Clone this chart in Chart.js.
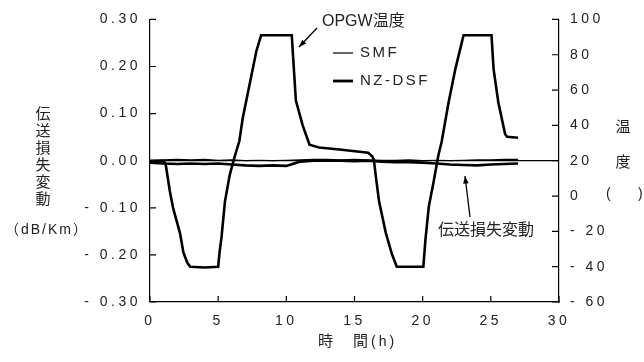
<!DOCTYPE html>
<html>
<head>
<meta charset="utf-8">
<script src="https://cdn.jsdelivr.net/npm/chart.js@4"></script>
<style>
  body { margin: 0; background: #fff; }
</style>
</head>
<body>
<canvas id="myChart" width="644" height="362"></canvas>
<script>
// OPGW temperature (right axis, degC) vs time (h)
let timeH = [0, 1.0, 1.15, 1.45, 1.7, 2.2, 2.45, 2.75, 2.95, 4.0, 5.0, 5.1, 5.25, 5.5, 5.85, 6.2, 6.55, 6.8, 7.3, 7.8, 8.15,
  10.4, 10.47, 10.7, 11.2, 11.7, 12.4, 13.9, 16.0, 16.3, 16.42, 16.55, 16.8, 17.3, 17.75, 18.1,
  20.05, 20.2, 20.45, 20.8, 21.15, 21.4, 21.9, 22.4, 23.0, 25.05, 25.2, 25.55, 26.05, 26.2, 27.0];
let opgwTemp = [20, 20, 18, 3, -7, -21, -32, -38, -40, -40.5, -40, -32, -23, -3, 12, 22, 31, 44, 63, 82, 91,
  91, 82, 54, 40, 29, 27.5, 26.3, 24.5, 22.5, 20.5, 12, -3, -21, -33, -40,
  -40, -25, -6, 8, 23, 31, 53, 72, 91, 91, 72, 53, 35, 33.5, 33];

// transmission loss change (left axis, dB/km)
let lossTime = [0, 1, 2, 3, 4, 5, 6, 7, 8, 9, 10, 11, 12, 13, 14, 15, 16, 17, 18, 19, 20, 21, 22, 23, 24, 25, 26, 27];
let smfLoss = [0.000, 0.002, 0.003, 0.002, 0.003, 0.001, 0.002, 0.000, 0.001, 0.000, 0.001, 0.002, 0.003, 0.003,
  0.002, 0.003, 0.002, 0.001, 0.001, 0.002, 0.000, 0.001, 0.000, 0.001, 0.002, 0.002, 0.003, 0.003];
let nzdsfLoss = [-0.004, -0.006, -0.007, -0.006, -0.007, -0.006, -0.008, -0.010, -0.011, -0.010, -0.011, -0.002,
  0.000, 0.000, 0.000, -0.001, 0.000, -0.002, -0.003, -0.003, -0.004, -0.006, -0.008, -0.009, -0.010, -0.008, -0.007, -0.006];

let xRange = [0, 30, 5];
let lossRange = [-0.3, 0.3, 0.1];
let tempRange = [-60, 100, 20];

const FONT = '"Liberation Sans", "Noto Sans CJK JP", sans-serif';
const INK = '#222';

function pts(xs, ys) {
  return xs.map((x, i) => ({ x: x, y: ys[i] }));
}
function signed(v, d) {
  if (Math.abs(v) < 1e-9) v = 0;
  let s = d ? Math.abs(v).toFixed(d) : String(Math.abs(v));
  return v < 0 ? '- ' + s : s;
}

// wide letter spacing like the original
const spacing = {
  id: 'spacing',
  beforeUpdate(chart) { chart.ctx.letterSpacing = '3.5px'; },
  beforeDraw(chart) { chart.ctx.letterSpacing = '3.5px'; }
};

// tick marks pointing into the plot
const inwardTicks = {
  id: 'inwardTicks',
  afterDatasetsDraw(chart) {
    const ctx = chart.ctx, a = chart.chartArea;
    ctx.save();
    ctx.strokeStyle = '#000';
    ctx.lineWidth = 1.2;
    ctx.beginPath();
    chart.scales.y.ticks.forEach(t => {
      let p = chart.scales.y.getPixelForValue(t.value);
      ctx.moveTo(a.left, p); ctx.lineTo(a.left + 6, p);
    });
    chart.scales.y2.ticks.forEach(t => {
      let p = chart.scales.y2.getPixelForValue(t.value);
      ctx.moveTo(a.right - 7, p); ctx.lineTo(a.right, p);
    });
    chart.scales.x.ticks.forEach(t => {
      let p = chart.scales.x.getPixelForValue(t.value);
      ctx.moveTo(p, a.bottom); ctx.lineTo(p, a.bottom - 6);
    });
    ctx.stroke();
    ctx.restore();
  }
};

function arrow(ctx, x1, y1, x2, y2) {
  let ang = Math.atan2(y2 - y1, x2 - x1);
  ctx.beginPath();
  ctx.moveTo(x1, y1); ctx.lineTo(x2, y2);
  ctx.stroke();
  ctx.beginPath();
  ctx.moveTo(x2, y2);
  ctx.lineTo(x2 - 8 * Math.cos(ang - 0.35), y2 - 8 * Math.sin(ang - 0.35));
  ctx.lineTo(x2 - 8 * Math.cos(ang + 0.35), y2 - 8 * Math.sin(ang + 0.35));
  ctx.closePath();
  ctx.fill();
}

// axis titles, legend and notes
const labels = {
  id: 'labels',
  afterDraw(chart) {
    const ctx = chart.ctx;
    ctx.save();
    ctx.fillStyle = INK;
    ctx.strokeStyle = '#000';
    ctx.textBaseline = 'middle';

    ctx.letterSpacing = '0px';
    ctx.textAlign = 'center';
    ctx.font = '15px ' + FONT;
    ['伝', '送', '損', '失', '変', '動'].forEach((c, i) => ctx.fillText(c, 43, 115 + 17 * i));
    ctx.fillText('温', 623, 128);
    ctx.fillText('度', 623, 163);

    ctx.font = '14px ' + FONT;
    ctx.letterSpacing = '2px';
    ctx.fillText('（dB/Km）', 47, 230);
    ctx.textAlign = 'left';
    ctx.fillText('(', 606, 194);
    ctx.fillText(')', 638, 194);

    ctx.letterSpacing = '0px';
    ctx.font = '15px ' + FONT;
    ctx.fillText('時', 318, 342);
    ctx.fillText('間', 353, 342);
    ctx.letterSpacing = '3px';
    ctx.font = '14px ' + FONT;
    ctx.fillText('(h)', 371, 342);

    // notes
    ctx.letterSpacing = '0px';
    ctx.font = '16px ' + FONT;
    ctx.fillText('OPGW温度', 322, 22);
    ctx.fillText('伝送損失変動', 438, 231);
    ctx.lineWidth = 1.3;
    ctx.fillStyle = '#000';
    arrow(ctx, 317, 28, 299, 47);
    arrow(ctx, 470, 217, 465, 176);

    // legend
    ctx.fillStyle = INK;
    ctx.letterSpacing = '2.5px';
    ctx.font = '15px ' + FONT;
    ctx.fillText('SMF', 360, 53);
    ctx.fillText('NZ-DSF', 360, 81);
    ctx.beginPath();
    ctx.lineWidth = 1.2;
    ctx.moveTo(333, 53); ctx.lineTo(353, 53);
    ctx.stroke();
    ctx.beginPath();
    ctx.lineWidth = 2.8;
    ctx.moveTo(333, 81); ctx.lineTo(353, 81);
    ctx.stroke();
    ctx.restore();
  }
};

new Chart("myChart", {
  type: "line",
  data: {
    datasets: [{
      label: "OPGW温度",
      data: pts(timeH, opgwTemp),
      yAxisID: "y2",
      borderColor: "#000",
      borderWidth: 2.6,
      pointRadius: 0
    }, {
      label: "SMF",
      data: pts(lossTime, smfLoss),
      yAxisID: "y",
      borderColor: "#000",
      borderWidth: 1.2,
      pointRadius: 0
    }, {
      label: "NZ-DSF",
      data: pts(lossTime, nzdsfLoss),
      yAxisID: "y",
      borderColor: "#000",
      borderWidth: 2.6,
      pointRadius: 0
    }]
  },
  options: {
    responsive: false,
    animation: false,
    layout: { padding: { top: 17, left: 0, right: 0, bottom: 0 } },
    plugins: {
      legend: { display: false },
      tooltip: { enabled: false }
    },
    scales: {
      x: {
        type: "linear",
        min: xRange[0], max: xRange[1],
        border: { display: true, color: "#000", width: 1.2 },
        grid: { display: false, drawTicks: false },
        ticks: { stepSize: xRange[2], padding: 11, color: INK, maxRotation: 0, autoSkip: false,
          font: { family: FONT, size: 14 } },
        afterFit(s) { s.height = 60; }
      },
      y: {
        position: "left",
        min: lossRange[0], max: lossRange[1],
        border: { display: true, color: "#000", width: 1.2 },
        grid: {
          drawTicks: false,
          color: c => (c.tick && Math.abs(c.tick.value) < 1e-9) ? "#000" : "rgba(0,0,0,0)",
          lineWidth: 1.2
        },
        ticks: { stepSize: lossRange[2], padding: 9, color: INK,
          font: { family: FONT, size: 14 },
          callback: v => signed(v, 2) },
        afterFit(s) { s.width = 150; }
      },
      y2: {
        position: "right",
        min: tempRange[0], max: tempRange[1],
        border: { display: true, color: "#000", width: 1.2 },
        grid: { display: false, drawTicks: false },
        ticks: { stepSize: tempRange[2], padding: 11, color: INK,
          font: { family: FONT, size: 14 },
          callback: v => signed(v, 0) },
        afterFit(s) { s.width = 85; }
      }
    }
  },
  plugins: [spacing, inwardTicks, labels]
});
</script>
</body>
</html>
